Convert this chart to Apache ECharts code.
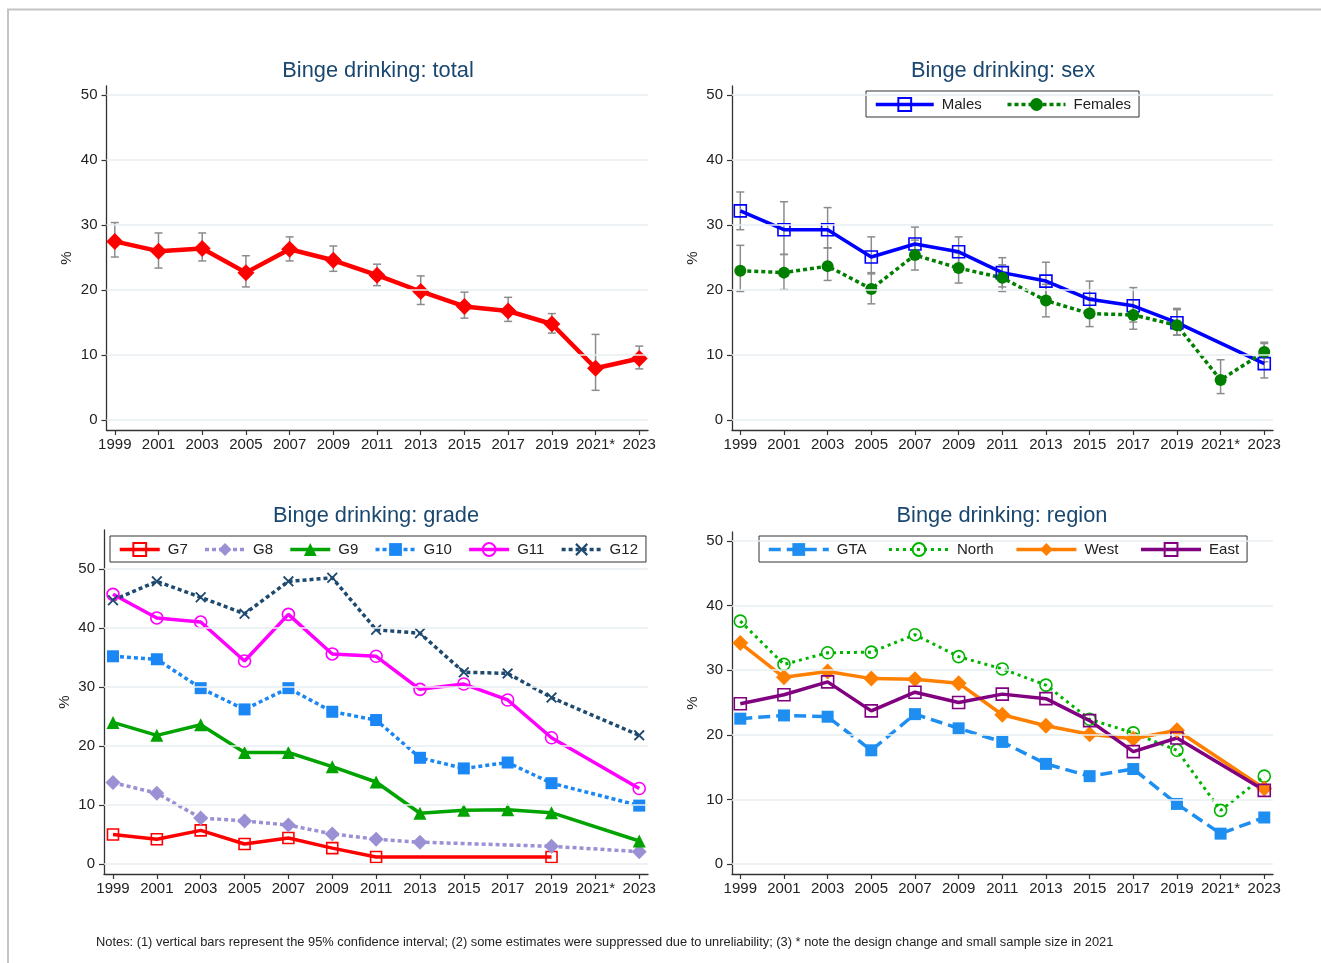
<!DOCTYPE html>
<html><head><meta charset="utf-8">
<script src="https://cdn.jsdelivr.net/npm/echarts@6/dist/echarts.min.js"></script>
<style>html,body{margin:0;padding:0;background:#fff}#c{width:1321px;height:963px}</style>
</head><body><div id="c"></div>
<script>
// ---------- data ----------
const years = ['1999','2001','2003','2005','2007','2009','2011','2013','2015','2017','2019','2021*','2023'];
const yTicks = [0,10,20,30,40,50];

const total     = [27.5,26.0,26.4,22.7,26.3,24.6,22.3,19.8,17.5,16.8,14.8,8.0,9.5];
const totalLow  = [25.1,23.4,24.5,20.5,24.5,22.9,20.7,17.8,15.7,15.2,13.4,4.6,7.9];
const totalHigh = [30.4,28.8,28.8,25.3,28.2,26.8,24.0,22.2,19.7,18.9,16.4,13.2,11.4];

const males       = [32.2,29.3,29.3,25.1,27.1,25.9,22.7,21.4,18.6,17.6,15.0,null,8.7];
const malesLow    = [29.3,25.5,26.5,22.5,24.8,23.8,20.5,18.5,16.2,15.1,13.1,null,6.5];
const malesHigh   = [35.1,33.6,32.7,28.2,29.7,28.2,25.0,24.3,21.4,20.4,17.2,null,11.8];
const females     = [23.0,22.7,23.7,20.2,25.4,23.4,21.9,18.4,16.4,16.2,14.6,6.2,10.5];
const femalesLow  = [19.8,20.1,21.5,17.9,23.1,21.1,19.8,15.9,14.4,14.0,13.1,4.1,9.0];
const femalesHigh = [26.9,25.5,26.5,22.7,27.7,25.7,23.9,20.9,18.8,18.5,17.0,9.3,12.0];

const g7  = [5.0,4.2,5.7,3.4,4.4,2.7,1.2,null,null,null,1.2,null,null];
const g8  = [13.8,12.0,7.8,7.3,6.6,5.1,4.2,3.7,null,null,3.0,null,2.1];
const g9  = [24.0,21.8,23.6,18.9,18.9,16.5,13.9,8.6,9.1,9.2,8.7,null,3.9];
const g10 = [35.2,34.7,29.8,26.2,29.8,25.8,24.4,18.0,16.2,17.2,13.7,null,9.9];
const g11 = [45.7,41.7,41.0,34.4,42.3,35.6,35.2,29.6,30.5,27.8,21.4,null,12.8];
const g12 = [44.7,47.9,45.2,42.4,47.9,48.5,39.7,39.1,32.5,32.3,28.2,null,21.8];

const gta   = [22.5,23.0,22.8,17.6,23.2,21.0,18.9,15.5,13.6,14.7,9.3,4.7,7.2];
const north = [37.6,30.9,32.7,32.8,35.5,32.1,30.2,27.7,22.4,20.3,17.6,8.3,13.6];
const west  = [34.2,28.9,29.8,28.7,28.6,28.0,23.1,21.4,20.1,19.4,20.7,null,11.7];
const east  = [24.8,26.2,28.2,23.7,26.6,25.0,26.3,25.6,22.2,17.4,19.5,null,11.4];

// ---------- helpers ----------
const FONT = 'Liberation Sans, Arial, Helvetica, sans-serif';
const TXT = '#222222';
const xIdx = years.map((_, i) => i);

const grids = [
  {left: 106.5, top: 86,  width: 541.5, height: 344, ymin: -1.5,  ymax: 51.4, xmin: -0.19, xmax: 12.2},
  {left: 732,   top: 86,  width: 541,   height: 344, ymin: -1.5,  ymax: 51.4, xmin: -0.19, xmax: 12.2},
  {left: 104,   top: 530, width: 544,   height: 344, ymin: -1.69, ymax: 56.6, xmin: -0.205, xmax: 12.2},
  {left: 732,   top: 532, width: 541,   height: 342, ymin: -1.55, ymax: 51.4, xmin: -0.19, xmax: 12.2}
];

function pairs(arr) { return arr.map((v, i) => [i, v]); }

function lineSeries(name, arr, g, o) {
  const hollow = !!o.hollow;
  return {
    type: 'line', name: name, xAxisIndex: g, yAxisIndex: g,
    data: pairs(arr), connectNulls: true, z: 3,
    symbol: o.symbol, symbolSize: o.size, showSymbol: true,
    lineStyle: {color: o.color, width: o.width || 3.5, type: o.type || 'solid'},
    itemStyle: hollow ? {color: 'rgba(255,255,255,0)', borderColor: o.color, borderWidth: 1.6}
                      : {color: o.color, borderWidth: 0},
    emphasis: {disabled: true}
  };
}

function errSeries(low, high, g) {
  const d = [];
  low.forEach((l, i) => { if (l != null && high[i] != null) d.push([i, l, high[i]]); });
  return {
    type: 'custom', xAxisIndex: g, yAxisIndex: g, z: 2, silent: true,
    data: d, encode: {x: 0, y: [1, 2]},
    renderItem: function (params, api) {
      const x = api.value(0);
      const p1 = api.coord([x, api.value(1)]);
      const p2 = api.coord([x, api.value(2)]);
      const w = 4;
      const st = {stroke: '#8c8c8c', lineWidth: 1.5};
      return {type: 'group', children: [
        {type: 'line', shape: {x1: p1[0], y1: p1[1], x2: p2[0], y2: p2[1]}, style: st},
        {type: 'line', shape: {x1: p1[0] - w, y1: p1[1], x2: p1[0] + w, y2: p1[1]}, style: st},
        {type: 'line', shape: {x1: p2[0] - w, y1: p2[1], x2: p2[0] + w, y2: p2[1]}, style: st}
      ]};
    }
  };
}

function gridLineSeries(g) {
  return {
    type: 'line', xAxisIndex: g, yAxisIndex: g, data: [], silent: true, z: 1,
    markLine: {
      symbol: 'none', silent: true, animation: false, label: {show: false},
      lineStyle: {color: '#e7eef1', width: 1.6, type: 'solid'},
      emphasis: {disabled: true},
      data: yTicks.map(v => ({yAxis: v}))
    }
  };
}

const X_SHAPE = 'path://M0,1.2L1.2,0L5,3.8L8.8,0L10,1.2L6.2,5L10,8.8L8.8,10L5,6.2L1.2,10L0,8.8L3.8,5Z';

const series = [];
for (let g = 0; g < 4; g++) series.push(gridLineSeries(g));

series.push(errSeries(totalLow, totalHigh, 0));
series.push(lineSeries('Total', total, 0, {symbol: 'diamond', size: 17, color: '#ff0000', width: 4.5}));

series.push(errSeries(malesLow, malesHigh, 1));
series.push(errSeries(femalesLow, femalesHigh, 1));
series.push(lineSeries('Males', males, 1, {symbol: 'rect', size: 12, color: '#0000ff', width: 3.5, hollow: true}));
series.push(lineSeries('Females', females, 1, {symbol: 'circle', size: 12, color: '#007f00', width: 3.5, type: [4, 3]}));

series.push(lineSeries('G7',  g7,  2, {symbol: 'rect', size: 11, color: '#ff0000', hollow: true}));
series.push(lineSeries('G8',  g8,  2, {symbol: 'diamond', size: 15, color: '#9a90d4', type: [4, 3]}));
series.push(lineSeries('G9',  g9,  2, {symbol: 'triangle', size: 13, color: '#00a300'}));
series.push(lineSeries('G10', g10, 2, {symbol: 'rect', size: 12, color: '#1a87f5', type: [4, 3]}));
series.push(lineSeries('G11', g11, 2, {symbol: 'circle', size: 12, color: '#ff00ff', hollow: true}));
series.push(lineSeries('G12', g12, 2, {symbol: X_SHAPE, size: 11, color: '#1f4a70', type: [4, 3]}));

series.push(lineSeries('GTA',   gta,   3, {symbol: 'rect', size: 12, color: '#1e8ef0', type: [12, 6]}));
series.push(lineSeries('North', north, 3, {symbol: 'circle', size: 12, color: '#00b400', width: 3, type: [3, 4], hollow: true}));
series.push(lineSeries('West',  west,  3, {symbol: 'diamond', size: 16, color: '#ff8000'}));
series.push(lineSeries('East',  east,  3, {symbol: 'rect', size: 12, color: '#800080', hollow: true}));

const xAxes = grids.map((gr, g) => ({
  type: 'value', gridIndex: g, min: gr.xmin, max: gr.xmax,
  axisLine: {show: true, onZero: false, lineStyle: {color: '#333', width: 1.3}},
  axisTick: {show: true, length: 5, customValues: xIdx, lineStyle: {color: '#333', width: 1.2}},
  axisLabel: {customValues: xIdx, formatter: v => years[Math.round(v)], fontSize: 15, color: TXT, fontFamily: FONT, margin: 7, hideOverlap: false},
  splitLine: {show: false}
}));

const yAxes = grids.map((gr, g) => ({
  type: 'value', gridIndex: g, min: gr.ymin, max: gr.ymax,
  axisLine: {show: true, onZero: false, lineStyle: {color: '#333', width: 1.3}},
  axisTick: {show: true, length: 5, customValues: yTicks, lineStyle: {color: '#333', width: 1.2}},
  axisLabel: {customValues: yTicks, fontSize: 15, color: TXT, fontFamily: FONT, margin: 9},
  splitLine: {show: false},
  name: '%', nameLocation: 'middle', nameGap: 32, nameRotate: 90,
  nameTextStyle: {fontSize: 15, color: TXT, fontFamily: FONT}
}));

const legendBase = {
  orient: 'horizontal', borderColor: '#333', borderWidth: 1, backgroundColor: '#fff',
  padding: [6, 8, 5, 8], itemHeight: 16, selectedMode: false,
  lineStyle: {width: 'inherit', type: 'inherit'},
  textStyle: {fontSize: 15, color: TXT, fontFamily: FONT, padding: [0, 0, 0, 3]}
};

const legends = [
  Object.assign({}, legendBase, {data: ['Males', 'Females'], left: 866, top: 91, itemWidth: 58, itemGap: 24}),
  Object.assign({}, legendBase, {data: ['G7','G8','G9','G10','G11','G12'], left: 110, top: 536, itemWidth: 40, itemGap: 15.5}),
  Object.assign({}, legendBase, {data: ['GTA','North','West','East'], left: 759, top: 536, itemWidth: 60, itemGap: 21}),
];

const titleStyle = {fontSize: 21.8, fill: '#1a476f', fontFamily: FONT, textAlign: 'center', textVerticalAlign: 'middle'};
const graphics = [
  {type: 'polyline', silent: true, shape: {points: [[8, 963], [8, 9.5], [1321, 9.5]]}, style: {stroke: '#c4c4c4', lineWidth: 2, fill: null}},
  {type: 'text', x: 378, y: 71, style: Object.assign({text: 'Binge drinking: total'}, titleStyle)},
  {type: 'text', x: 1003, y: 71, style: Object.assign({text: 'Binge drinking: sex'}, titleStyle)},
  {type: 'text', x: 376, y: 516, style: Object.assign({text: 'Binge drinking: grade'}, titleStyle)},
  {type: 'text', x: 1002, y: 516, style: Object.assign({text: 'Binge drinking: region'}, titleStyle)},
  {type: 'text', x: 96, y: 942, style: {text: 'Notes: (1) vertical bars represent the 95% confidence interval; (2) some estimates were suppressed due to unreliability; (3) * note the design change and small sample size in 2021', fontSize: 12.85, fill: TXT, fontFamily: 'Liberation Sans Narrow, Arial Narrow, Liberation Sans, sans-serif', textVerticalAlign: 'middle'}}
];

const chart = echarts.init(document.getElementById('c'), null, {renderer: 'canvas'});
chart.setOption({
  animation: false,
  backgroundColor: '#ffffff',
  grid: grids.map(gr => ({left: gr.left, top: gr.top, width: gr.width, height: gr.height, containLabel: false, outerBoundsMode: 'none'})),
  xAxis: xAxes,
  yAxis: yAxes,
  legend: legends,
  series: series,
  graphic: graphics
});
</script>
</body></html>
